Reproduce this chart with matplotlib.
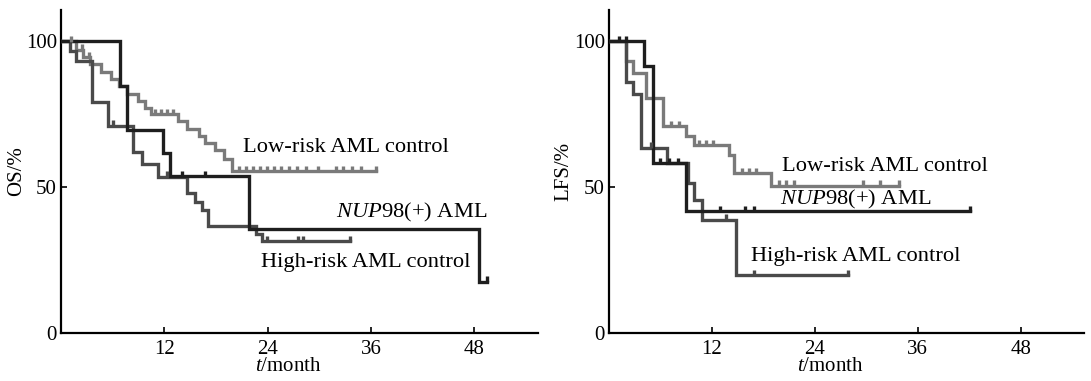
import numpy as np
import matplotlib
matplotlib.use("Agg")
from matplotlib import pyplot as plt

plt.rcParams['font.family'] = ['Liberation Serif', 'DejaVu Serif']
plt.rcParams['mathtext.fontset'] = 'custom'
plt.rcParams['mathtext.rm'] = 'Liberation Serif'
plt.rcParams['mathtext.it'] = 'Liberation Serif:italic'

# ---- OS (left panel) ----
os_nup_t = [6.8, 7.7, 11.8, 12.7, 21.8, 48.5]
os_nup_s = [84.5, 69.5, 61.5, 53.7, 35.6, 17.6]
os_nup_end = 49.5
os_nup_cens = [14.0, 16.7, 49.5]

os_low_t = [1.8, 2.6, 3.4, 4.6, 5.8, 6.7, 7.7, 8.9, 9.7, 10.5, 13.6, 14.6, 16.0, 16.7, 17.9, 18.9, 19.9]
os_low_s = [97, 94.5, 92, 89.5, 87, 84.5, 82, 79.5, 77, 75, 72.5, 70, 67.5, 65, 62.5, 59.5, 55.5]
os_low_end = 36.6
os_low_cens = [1.2, 2.4, 3.2, 10.9, 11.6, 12.3, 13.0, 20.7, 21.5, 22.3, 23.1, 23.9, 24.7,
               25.5, 26.5, 27.4, 28.4, 29.9, 31.9, 32.8, 33.8, 34.8, 36.6]

os_high_t = [1.0, 1.8, 3.6, 5.5, 8.4, 9.4, 11.3, 14.6, 15.6, 16.4, 17.1, 22.6, 23.4]
os_high_s = [96.5, 93, 79, 71, 62, 58, 53.5, 48, 45, 42, 36.7, 34, 31.5]
os_high_end = 33.6
os_high_cens = [6.0, 12.3, 23.9, 27.5, 28.1, 33.6]

# ---- LFS (right panel) ----
lfs_nup_t = [4.1, 5.1, 9.0]
lfs_nup_s = [91.4, 58.2, 41.6]
lfs_nup_end = 42.1
lfs_nup_cens = [1.2, 2.0, 5.9, 7.0, 8.0, 13.0, 15.9, 16.9, 42.1]

lfs_low_t = [2.0, 2.8, 4.3, 6.3, 9.0, 9.9, 14.0, 14.6, 18.85]
lfs_low_s = [93, 89, 80.5, 70.8, 67.3, 64.3, 61, 54.8, 50.5]
lfs_low_end = 33.8
lfs_low_cens = [7.2, 8.2, 10.5, 11.3, 12.1, 15.5, 16.3, 17.1, 19.8, 20.7, 21.6, 29.6, 31.6, 33.8]

lfs_high_t = [2.0, 2.8, 3.75, 6.8, 9.2, 9.9, 10.8, 14.8]
lfs_high_s = [86, 82, 63.4, 58.2, 51.3, 45.6, 38.8, 19.8]
lfs_high_end = 27.9
lfs_high_cens = [4.9, 13.6, 16.9, 27.9]

c_nup = '#1e1e1e'
c_low = '#7a7a7a'
c_high = '#4a4a4a'


def km(ax, t, s, end, cens, color, lw=2.4):
    tt = np.r_[0, t, end]
    ss = np.r_[100, s, s[-1]]
    ax.step(tt, ss, where='post', color=color, lw=lw, solid_joinstyle='miter', zorder=3)
    # censor marks
    cens = np.asarray(cens)
    idx = np.searchsorted(tt, cens, side='right') - 1
    cy = ss[np.clip(idx, 0, len(ss) - 1)]
    ax.plot(cens, cy + 0.8, ls='none', marker='|', ms=4, mew=2.4, color=color, zorder=4)


def style(ax, ylab, xlab_x):
    ax.set_xlim(0, 55.4)
    ax.set_ylim(0, 110.6)
    for sp in ['top', 'right']:
        ax.spines[sp].set_visible(False)
    for sp in ['left', 'bottom']:
        ax.spines[sp].set_linewidth(1.6)
    ax.set_xticks([12, 24, 36, 48])
    ax.set_yticks([0, 50, 100])
    ax.tick_params(direction='in', length=4, width=1.2, labelsize=15, pad=3)
    ax.tick_params(axis='x', pad=5)
    ax.set_ylabel(ylab, fontsize=15, labelpad=0)
    ax.set_xlabel(r'$\mathit{t}$/month', fontsize=15)
    ax.xaxis.set_label_coords(xlab_x, -0.075)


fig = plt.figure(figsize=(10.91, 3.81), dpi=100)
ax1 = fig.add_axes([0.0559, 0.126, 0.4372, 0.8478])
ax2 = fig.add_axes([0.5582, 0.126, 0.4354, 0.8478])

km(ax1, os_low_t, os_low_s, os_low_end, os_low_cens, c_low)
km(ax1, os_high_t, os_high_s, os_high_end, os_high_cens, c_high)
km(ax1, os_nup_t, os_nup_s, os_nup_end, os_nup_cens, c_nup)
style(ax1, 'OS/%', 0.476)
fs = 16.2
ax1.text(21.1, 63.4, 'Low-risk AML control', fontsize=fs, va='center', ha='left')
ax1.text(31.9, 41.4, r'$\mathit{NUP}$98(+) AML', fontsize=fs, va='center', ha='left')
ax1.text(23.2, 24.3, 'High-risk AML control', fontsize=fs, va='center', ha='left')

km(ax2, lfs_low_t, lfs_low_s, lfs_low_end, lfs_low_cens, c_low)
km(ax2, lfs_high_t, lfs_high_s, lfs_high_end, lfs_high_cens, c_high)
km(ax2, lfs_nup_t, lfs_nup_s, lfs_nup_end, lfs_nup_cens, c_nup)
style(ax2, 'LFS/%', 0.465)
ax2.text(20.2, 56.9, 'Low-risk AML control', fontsize=fs, va='center', ha='left')
ax2.text(20.0, 45.6, r'$\mathit{NUP}$98(+) AML', fontsize=fs, va='center', ha='left')
ax2.text(16.6, 26.1, 'High-risk AML control', fontsize=fs, va='center', ha='left')

fig.savefig('out.png', dpi=100)
